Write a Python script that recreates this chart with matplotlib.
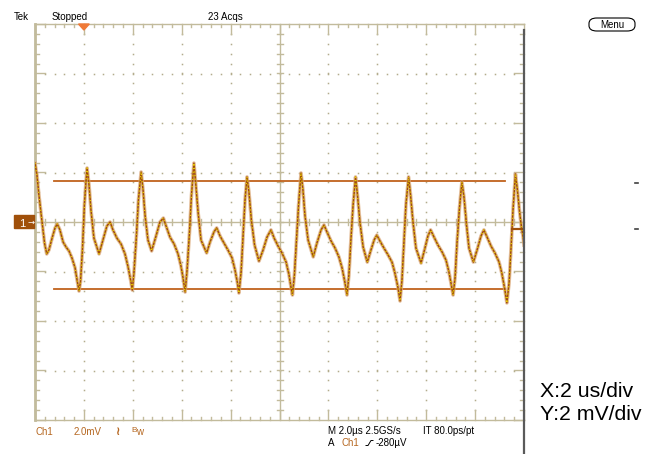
import numpy as np
import matplotlib
matplotlib.use("Agg")
import matplotlib.pyplot as plt
from matplotlib.patches import Rectangle, Polygon, FancyBboxPatch
from matplotlib.lines import Line2D

# ---------------- data (time in us, voltage in mV) ----------------
t_us = [0.00, 0.08, 0.16, 0.29, 0.39, 0.48, 0.57, 0.70, 0.82, 0.91, 1.02, 1.15, 1.27, 1.39, 1.51, 1.64, 1.72, 1.80, 1.86, 1.94, 2.02, 2.09, 2.13,
        2.21, 2.29, 2.41, 2.62, 2.78, 2.94, 3.07, 3.19, 3.35, 3.52, 3.68, 3.80, 3.91, 3.98, 4.05, 4.15, 4.23, 4.34,
        4.42, 4.50, 4.62, 4.77, 4.95, 5.11, 5.25, 5.36, 5.52, 5.69, 5.85, 5.97, 6.07, 6.14, 6.22, 6.32, 6.40, 6.50,
        6.58, 6.67, 6.79, 7.02, 7.16, 7.32, 7.43, 7.57, 7.73, 7.89, 8.06, 8.18, 8.28, 8.34, 8.43, 8.51, 8.59, 8.67,
        8.75, 8.85, 8.98, 9.16, 9.33, 9.49, 9.65, 9.78, 9.94, 10.10, 10.27, 10.39, 10.47, 10.53, 10.61, 10.70, 10.78, 10.88,
        10.96, 11.04, 11.17, 11.38, 11.53, 11.70, 11.82, 11.94, 12.11, 12.27, 12.43, 12.56, 12.68, 12.76, 12.84, 12.92, 13.01, 13.11,
        13.19, 13.29, 13.42, 13.59, 13.74, 13.87, 13.98, 14.11, 14.27, 14.44, 14.60, 14.72, 14.85, 14.93, 15.01, 15.09, 15.17, 15.28,
        15.36, 15.46, 15.58, 15.79, 15.95, 16.07, 16.18, 16.32, 16.48, 16.65, 16.81, 16.93, 17.03, 17.10, 17.18, 17.26, 17.36, 17.46,
        17.55, 17.65, 17.75, 17.93, 18.08, 18.24, 18.36, 18.49, 18.65, 18.81, 18.98, 19.10, 19.22, 19.30, 19.39, 19.47, 19.55, 19.65,
        19.73, 19.82, 19.90, 19.96, 20.00]
v_mV = [2.38, 1.90, 1.09, 0.00, -0.85, -1.29, -1.13, -0.65, -0.24, -0.08, -0.32, -0.81, -1.01, -1.17, -1.45, -1.86, -2.34, -2.79, -2.42, -1.13, 0.69, 1.70, 2.18,
        1.49, 0.48, -0.65, -1.29, -0.73, -0.16, 0.00, -0.32, -0.65, -0.89, -1.29, -1.78, -2.34, -2.75, -2.02, -0.53, 0.89, 2.02,
        1.29, 0.28, -0.73, -1.17, -0.57, 0.00, 0.16, -0.16, -0.61, -0.89, -1.29, -1.78, -2.34, -2.83, -1.94, -0.40, 1.09, 2.38,
        1.49, 0.40, -0.73, -1.25, -0.81, -0.40, -0.24, -0.57, -0.85, -1.13, -1.45, -1.94, -2.46, -2.87, -2.02, -0.53, 0.89, 1.82,
        1.21, 0.08, -0.93, -1.58, -1.13, -0.61, -0.32, -0.65, -0.97, -1.25, -1.62, -2.14, -2.63, -2.95, -2.14, -0.65, 0.69, 1.98,
        1.29, 0.28, -0.73, -1.41, -0.85, -0.32, -0.12, -0.40, -0.77, -1.05, -1.41, -1.86, -2.46, -2.95, -2.14, -0.73, 0.69, 1.82,
        1.09, 0.00, -1.01, -1.62, -1.13, -0.73, -0.53, -0.77, -1.05, -1.33, -1.62, -2.06, -2.67, -3.19, -2.34, -0.81, 0.69, 1.82,
        1.09, 0.00, -1.05, -1.66, -1.05, -0.57, -0.32, -0.61, -0.93, -1.21, -1.54, -2.02, -2.55, -2.95, -2.26, -0.85, 0.57, 1.62,
        0.97, -0.12, -1.05, -1.62, -1.13, -0.57, -0.32, -0.61, -0.97, -1.25, -1.62, -2.10, -2.75, -3.27, -2.46, -1.05, 0.48, 1.94,
        1.29, 0.40, -0.24, -0.57, -0.93]

cursor_upper_mV = 1.66
cursor_lower_mV = -2.71
cursor_t_span = [0.78, 19.22]
trigger_time_us = 2.0
trigger_level_mV = -0.28

# ---------------- figure ----------------
W, H = 657, 454
fig = plt.figure(figsize=(W / 100, H / 100), dpi=100)
fig.patch.set_facecolor("white")

def fx(px):
    return px / W

def fy(py):
    return 1 - py / H

ax = fig.add_axes([fx(35), fy(420), 489 / W, 396 / H])
ax.set_xlim(0, 20)
ax.set_ylim(-8, 8)
ax.axis("off")

gcol = "#c2bb9c"
dcol = "#b3ac8c"
PXX = 20 / 489.0   # us per px
PXY = 16 / 396.0   # mV per px

# grid dots
for tv in [2, 4, 6, 8, 12, 14, 16, 18]:
    vv = np.arange(-7.6, 7.61, 0.4)
    ax.plot(np.full_like(vv, tv), vv, ls="none", marker="s", ms=1.1, color=dcol, mew=0)
for vv0 in [-6, -4, -2, 2, 4, 6]:
    tt = np.arange(0.4, 19.61, 0.4)
    ax.plot(tt, np.full_like(tt, vv0), ls="none", marker="s", ms=1.1, color=dcol, mew=0)

# center cross
ax.plot([0, 20], [0, 0], color=gcol, lw=1.0)
ax.plot([10, 10], [-8, 8], color=gcol, lw=1.0)
for tt in np.arange(0.4, 19.61, 0.4):
    ax.plot([tt, tt], [-3 * PXY, 3 * PXY], color=gcol, lw=1.0)
for vv in np.arange(-7.6, 7.61, 0.4):
    ax.plot([10 - 3 * PXX, 10 + 3 * PXX], [vv, vv], color=gcol, lw=1.0)

# border rulers
ax.plot([0, 20], [8, 8], color=gcol, lw=1.0, clip_on=False)
ax.plot([0, 20], [-8, -8], color=gcol, lw=1.0, clip_on=False)
ax.plot([0, 0], [-8, 8], color=gcol, lw=2.0, clip_on=False)
for i, tt in enumerate(np.arange(0, 20.01, 0.4)):
    major = (i % 5 == 0)
    L = (10 if major else 3) * PXY
    ax.plot([tt, tt], [8, 8 - L], color=gcol, lw=1.0, clip_on=False)
    ax.plot([tt, tt], [-8, -8 + L], color=gcol, lw=1.0, clip_on=False)
for i, vv in enumerate(np.arange(-8, 8.01, 0.4)):
    major = (i % 5 == 0)
    L = (10 if major else 4) * PXX
    ax.plot([0, L], [vv, vv], color=gcol, lw=1.0, clip_on=False)
    ax.plot([20, 20 - L], [vv, vv], color=gcol, lw=1.0, clip_on=False)

# waveform
ax.plot(t_us, v_mV, color="#dba877", lw=2.6, alpha=0.75, solid_joinstyle="round", zorder=5)
ax.plot(t_us, v_mV, color="#a04c0a", lw=1.1, zorder=6)
ax.plot(t_us, v_mV, color="#e8d000", lw=1.0, dashes=(0.8, 1.8), zorder=7)

# cursors
ax.plot(cursor_t_span, [cursor_upper_mV] * 2, color="#c0621c", lw=1.3, zorder=4)
ax.plot(cursor_t_span, [cursor_lower_mV] * 2, color="#c0621c", lw=1.3, zorder=4)

# trigger level marker on right edge
ax.plot([19.5, 19.97], [trigger_level_mV] * 2, color="#a0500a", lw=1.6, zorder=8)

# trigger position triangle
ax.add_patch(Polygon([[trigger_time_us - 0.22, 8.0], [trigger_time_us + 0.22, 8.0],
                      [trigger_time_us, 8.0 - 6 * PXY]], closed=True,
                     color="#f07a38", clip_on=False, zorder=9))

# right dark edge line
fig.add_artist(Line2D([fx(524), fx(524)], [fy(30), fy(454)], color="#5a5a5a", lw=1.6))

# small dashes right
for yy in [183, 229]:
    fig.add_artist(Line2D([fx(634.5), fx(637.5)], [fy(yy), fy(yy)], color="#404040", lw=1.2))

# channel marker
fig.add_artist(Rectangle((fx(14), fy(228)), 20 / W, 13 / H, color="#a0500a", transform=fig.transFigure))
fig.text(fx(19.5), fy(226.5), "1", color="white", fontsize=8, family="Liberation Sans", va="baseline")
fig.text(fx(27), fy(222), "→", color="white", fontsize=6, family="DejaVu Sans", va="center")

FS = 7
fam = "Liberation Sans"
fig.text(fx(14), fy(20), "Tek", fontsize=FS, family=fam)
fig.text(fx(52), fy(20), "Stopped", fontsize=FS, family=fam)
fig.text(fx(208), fy(20), "23 Acqs", fontsize=FS, family=fam)
fig.add_artist(FancyBboxPatch((fx(589), fy(31)), 46 / W, 13 / H,
                              boxstyle="round,pad=0,rounding_size=0.012",
                              transform=fig.transFigure, fc="white", ec="black", lw=0.8))
fig.text(fx(612), fy(24.5), "Menu", fontsize=FS, family=fam, ha="center", va="center")

ocol = "#b5661f"
fig.text(fx(35), fy(435), "Ch1", fontsize=FS, family=fam, color=ocol)
fig.text(fx(74), fy(435), "2.0mV", fontsize=FS, family=fam, color=ocol)
fig.text(fx(116), fy(435), "≀", fontsize=8.5, family="DejaVu Sans", color=ocol, weight="bold")
fig.text(fx(131), fy(432), "B", fontsize=6, family=fam, color=ocol)
fig.text(fx(136.5), fy(435), "w", fontsize=FS, family=fam, color=ocol)

fig.text(fx(328), fy(434), "M 2.0µs 2.5GS/s", fontsize=FS, family=fam)
fig.text(fx(423), fy(434), "IT 80.0ps/pt", fontsize=FS, family=fam)
fig.text(fx(328), fy(446), "A", fontsize=FS, family=fam)
fig.text(fx(342), fy(446), "Ch1", fontsize=FS, family=fam, color=ocol)
fig.add_artist(Line2D([fx(366), fx(368), fx(371), fx(373)], [fy(445.5), fy(445.5), fy(440.5), fy(440.5)],
                      color="black", lw=0.7))
fig.text(fx(376), fy(446), "-280µV", fontsize=FS, family=fam)

fig.text(fx(540), fy(397), "X:2 us/div", fontsize=15.3, family=fam)
fig.text(fx(540), fy(420), "Y:2 mV/div", fontsize=15.3, family=fam)

fig.savefig("out.png", dpi=100, facecolor="white")
